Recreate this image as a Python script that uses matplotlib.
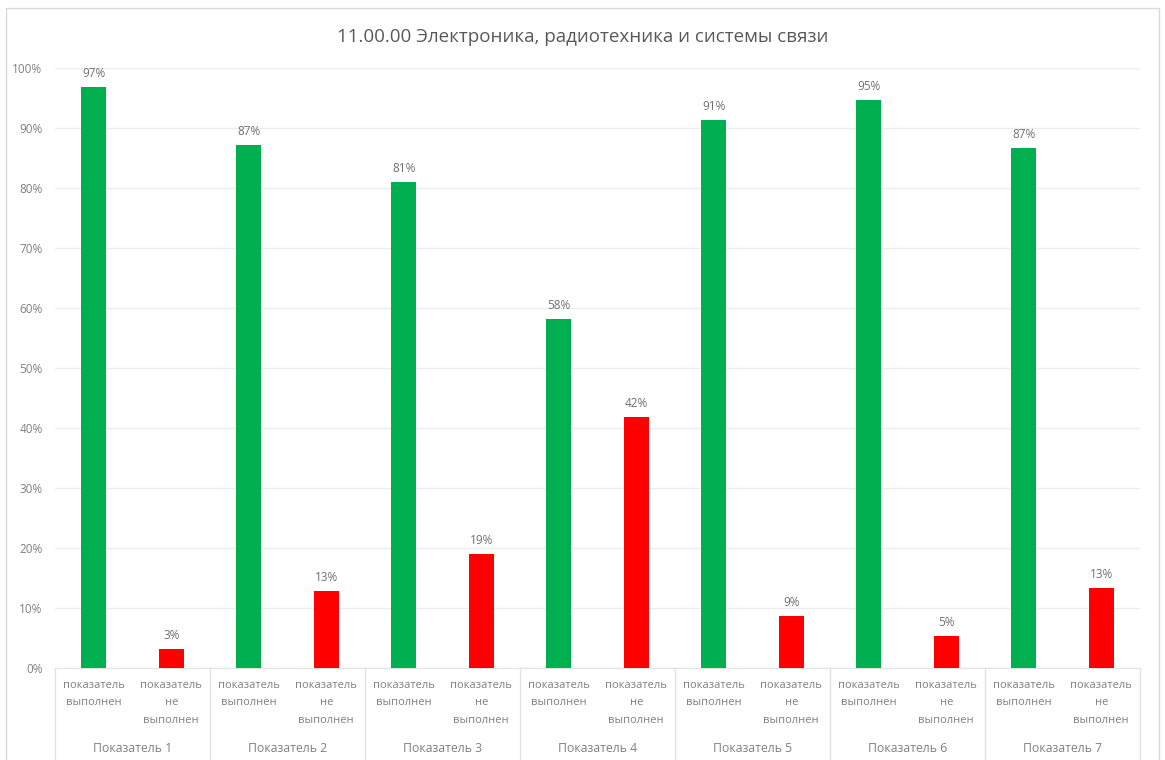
import matplotlib
matplotlib.use("Agg")
import matplotlib.pyplot as plt
import matplotlib.transforms as mtransforms
from matplotlib.patches import Rectangle

plt.rcParams['font.family'] = ['Open Sans', 'DejaVu Sans']

TITLE = "11.00.00 Электроника, радиотехника и системы связи"
GROUPS = ["Показатель 1", "Показатель 2", "Показатель 3", "Показатель 4",
          "Показатель 5", "Показатель 6", "Показатель 7"]
SERIES = ["показатель\nвыполнен", "показатель\nне\nвыполнен"]
done = [96.8, 87.1, 81.0, 58.2, 91.4, 94.6, 86.7]
not_done = [3.2, 12.9, 19.0, 41.8, 8.6, 5.4, 13.3]
yticks = [0, 10, 20, 30, 40, 50, 60, 70, 80, 90, 100]

GREEN = "#00b050"
RED = "#ff0000"
GRAY_TXT = "#808080"
W, H = 1165, 760

fig = plt.figure(figsize=(W / 100, H / 100), dpi=100)
ax = fig.add_axes([55 / W, (H - 668) / H, (1140 - 55) / W, 600 / H])

# рамка диаграммы как в Excel
fig.patches.append(Rectangle((6 / W, -0.05), (1159 - 6) / W, (H - 8) / H + 0.05,
                             transform=fig.transFigure, fill=False,
                             edgecolor="#d9d9d9", linewidth=1))

n = len(GROUPS)
x_done = [g * 2 + 0.5 for g in range(n)]
x_not = [g * 2 + 1.5 for g in range(n)]
bw = 0.32

b1 = ax.bar(x_done, done, width=bw, color=GREEN, zorder=3)
b2 = ax.bar(x_not, not_done, width=bw, color=RED, zorder=3)

for bars, vals in ((b1, done), (b2, not_done)):
    for b, v in zip(bars, vals):
        ax.annotate(f"{v:.0f}%", (b.get_x() + b.get_width() / 2, v),
                    xytext=(0, 5), textcoords="offset points",
                    ha="center", va="bottom", fontsize=8.5, color="#707070")

ax.set_xlim(0, 2 * n)
ax.set_ylim(0, 100)
ax.set_yticks(yticks)
ax.set_yticklabels([f"{t}%" for t in yticks])
ax.tick_params(axis="y", length=0, pad=9, labelsize=8.5, labelcolor=GRAY_TXT)
ax.set_xticks([])
ax.grid(axis="y", color="#ececec", linewidth=1, zorder=0)
for s in ["top", "right", "left"]:
    ax.spines[s].set_visible(False)
ax.spines["bottom"].set_color("#e3e3e3")

# двухуровневая подпись оси категорий
trans = mtransforms.blended_transform_factory(ax.transData, fig.transFigure)
for g in range(n + 1):
    ax.plot([g * 2, g * 2], [(H - 668) / H, 0], color="#e3e3e3", linewidth=1,
            transform=trans, clip_on=False)
for g in range(n):
    ax.text(x_done[g], (H - 680) / H, SERIES[0], transform=trans, ha="center",
            va="top", fontsize=8, color=GRAY_TXT, linespacing=1.8)
    ax.text(x_not[g], (H - 680) / H, SERIES[1], transform=trans, ha="center",
            va="top", fontsize=8, color=GRAY_TXT, linespacing=1.8)
    ax.text(g * 2 + 1, (H - 748) / H, GROUPS[g], transform=trans, ha="center",
            va="center", fontsize=8.8, color=GRAY_TXT)

fig.text(583 / W, (H - 37) / H, TITLE, ha="center", va="center",
         fontsize=13.5, color="#595959")

fig.savefig("out.png", dpi=100, facecolor="white")
